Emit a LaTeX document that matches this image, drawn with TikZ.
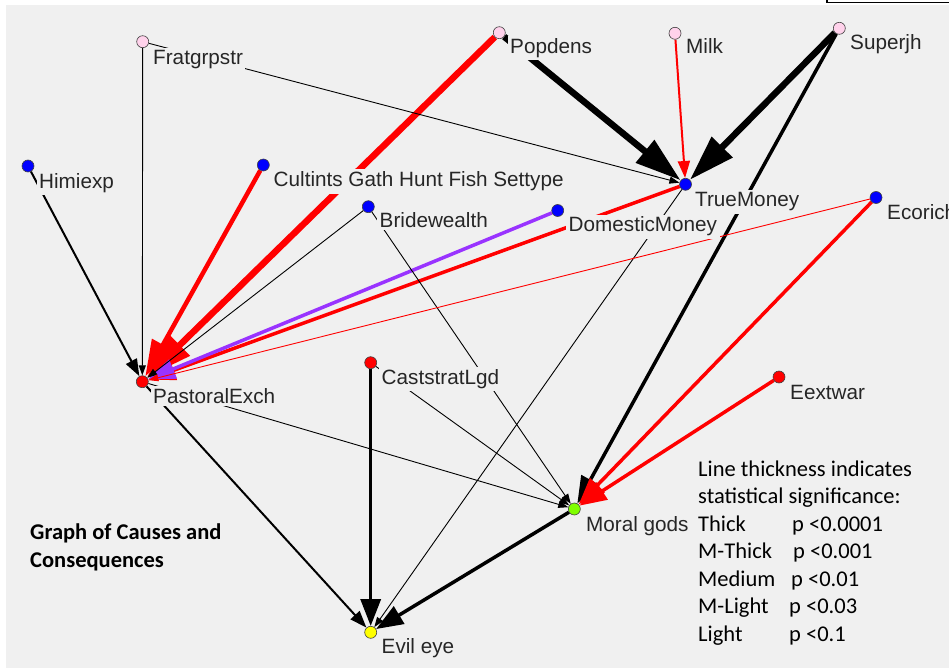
\documentclass[tikz,border=0pt]{standalone}
\usepackage{fontspec}
\setmainfont{Liberation Sans}
\newfontfamily\calib{Carlito}
\usetikzlibrary{arrows.meta}
\definecolor{bggray}{HTML}{F0F0F0}
\definecolor{pinkc}{RGB}{255,210,235}
\definecolor{bluec}{RGB}{0,0,255}
\definecolor{redc}{RGB}{255,0,0}
\definecolor{greenc}{RGB}{128,255,0}
\definecolor{yellowc}{RGB}{255,255,0}
\definecolor{purp}{RGB}{153,51,255}
\pgfdeclarelayer{backlayer}
\pgfdeclarelayer{edgelayer}
\pgfsetlayers{backlayer,edgelayer,main}
\begin{document}
\begin{tikzpicture}[x=1pt,y=-1pt,
  dot/.style={circle, draw=black!75, line width=0.6pt, minimum size=12pt, inner sep=0pt},
  lab/.style={anchor=base west, xshift=-2.5pt, fill=bggray, inner xsep=2.5pt, inner ysep=2.5pt, text=black!85, font=\fontsize{20.7}{24}\selectfont},
  leg/.style={anchor=base west, inner sep=0pt, font=\calib\fontsize{22.5}{27}\selectfont},
  thickE/.style={line width=6.5pt, -{Triangle[length=46pt,width=28pt]}},
  mthickE/.style={line width=4.5pt, -{Triangle[length=36pt,width=24pt]}},
  mediumE/.style={line width=3.5pt, -{Triangle[length=27pt,width=20pt]}},
  mlightE/.style={line width=2pt, -{Triangle[length=17pt,width=12pt]}},
  lightE/.style={line width=0.9pt, -{Triangle[length=10pt,width=7pt]}}]
\useasboundingbox (0,0) rectangle (949,668);
\begin{pgfonlayer}{backlayer}
\fill[white] (0,0) rectangle (949,668);
\fill[bggray] (5.5,5) rectangle (949,668);
\filldraw[fill=white, draw=black, line width=1.2pt] (827,-3) rectangle (955,2.5);
\end{pgfonlayer}
% nodes
\node[dot, fill=pinkc] (frat) at (142.7,41.7) {};
\node[dot, fill=pinkc] (pop) at (499.3,32.7) {};
\node[dot, fill=pinkc] (milk) at (675,33.3) {};
\node[dot, fill=pinkc] (sup) at (839.3,28.3) {};
\node[dot, fill=bluec] (himi) at (28,166) {};
\node[dot, fill=bluec] (cult) at (263.3,165) {};
\node[dot, fill=bluec] (bride) at (368.3,206.7) {};
\node[dot, fill=bluec] (dom) at (557.7,210.5) {};
\node[dot, fill=bluec] (tm) at (685.5,184.3) {};
\node[dot, fill=bluec] (eco) at (876,197.5) {};
\node[dot, fill=redc] (past) at (142.3,381.7) {};
\node[dot, fill=redc] (cast) at (370.7,362.7) {};
\node[dot, fill=redc] (eext) at (779,377) {};
\node[dot, fill=greenc] (moral) at (574.3,509) {};
\node[dot, fill=yellowc] (evil) at (370.7,632.3) {};
% labels
\node[lab] (frat-l) at (153,65) {Fratgrpstr};
\node[lab] (pop-l) at (510,53.5) {Popdens};
\node[lab] (milk-l) at (686,54) {Milk};
\node[lab] (sup-l) at (850,50) {Superjh};
\node[lab] (himi-l) at (39,188.5) {Himiexp};
\node[lab] (cult-l) at (273.5,187) {Cultints Gath Hunt Fish Settype};
\node[lab] (bride-l) at (379.5,227.5) {Bridewealth};
\node[lab] (dom-l) at (568.5,232) {DomesticMoney};
\node[lab] (tm-l) at (695,207) {TrueMoney};
\node[lab] (eco-l) at (887,219) {Ecorich};
\node[lab] (past-l) at (153,403) {PastoralExch};
\node[lab] (cast-l) at (381.5,384) {CaststratLgd};
\node[lab] (eext-l) at (790,399) {Eextwar};
\node[lab] (moral-l) at (586,531) {Moral gods};
\node[lab] (evil-l) at (381.5,653) {Evil eye};
% edges
\begin{pgfonlayer}{edgelayer}
\draw[thickE, redc] (pop) -- (past);
\draw[thickE] (pop) -- (tm);
\draw[thickE] (sup) -- (tm);
\draw[mthickE, redc] (cult) -- (past);
\draw[mediumE, redc] (tm) -- (past);
\draw[mediumE, purp] (dom) -- (past);
\draw[mediumE] (sup) -- (moral);
\draw[mediumE, redc] (eco) -- (moral);
\draw[mediumE, redc] (eext) -- (moral);
\draw[mediumE] (cast) -- (evil);
\draw[mediumE] (moral) -- (evil);
\draw[mlightE] (himi) -- (past);
\draw[mlightE] (past) -- (evil);
\draw[mlightE, redc] (milk) -- (tm);
\draw[lightE] (frat) -- (past);
\draw[lightE] (frat) -- (tm);
\draw[lightE] (bride) -- (past);
\draw[lightE] (bride) -- (moral);
\draw[lightE] (tm) -- (evil);
\draw[lightE, redc] (eco) -- (past);
\draw[lightE] (cast) -- (moral);
\draw[lightE] (past) -- (moral);
\end{pgfonlayer}
% title
\node[leg, font=\calib\bfseries\fontsize{22.5}{27}\selectfont] (title1) at (30,539.5) {Graph of Causes and};
\node[leg, font=\calib\bfseries\fontsize{22.5}{27}\selectfont] (title2) at (30,567.5) {Consequences};
% legend
\node[leg] (lg1) at (698,476) {Line thickness indicates};
\node[leg] (lg2) at (698,503.5) {statistical significance:};
\node[leg] (lg3a) at (698,531) {Thick};
\node[leg] (lg3b) at (792,531) {p <0.0001};
\node[leg] (lg4a) at (698,558.5) {M-Thick};
\node[leg] (lg4b) at (793,558.5) {p <0.001};
\node[leg] (lg5a) at (698,586) {Medium};
\node[leg] (lg5b) at (791,586) {p <0.01};
\node[leg] (lg6a) at (698,613.5) {M-Light};
\node[leg] (lg6b) at (789,613.5) {p <0.03};
\node[leg] (lg7a) at (698,641) {Light};
\node[leg] (lg7b) at (789,641) {p <0.1};
\end{tikzpicture}
\end{document}
